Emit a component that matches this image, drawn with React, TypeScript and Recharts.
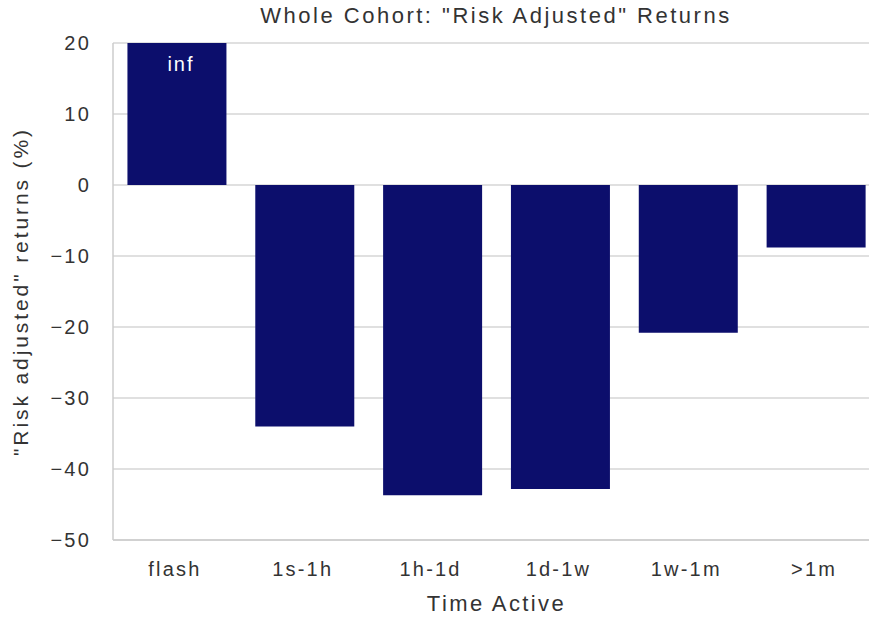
import { Bar, BarChart, CartesianGrid, LabelList, XAxis, YAxis } from "recharts"

const categories = ["flash", "1s-1h", "1h-1d", "1d-1w", "1w-1m", ">1m"]
// flash is infinite in the source; drawn clipped at the top of the axis
const returns = [20, -34, -43.7, -42.8, -20.8, -8.8]
const notes = ["inf", "", "", "", "", ""]
const yTicks = [20, 10, 0, -10, -20, -30, -40, -50]

const chartData = categories.map((c, i) => ({ period: c, value: returns[i], note: notes[i] }))

const font = "'Liberation Sans', Arial, sans-serif"
const textColor = "#333333"

const fmt = (v: number) => (v < 0 ? `\u2212${Math.abs(v)}` : `${v}`)

const XTick = ({ x, y, payload }: any) => (
  <text
    x={x - 2}
    y={y + 28}
    textAnchor="middle"
    fill={textColor}
    fontSize={20}
    fontFamily={font}
    style={{ letterSpacing: 2.2 }}
  >
    {payload.value}
  </text>
)

const YTick = ({ x, y, payload }: any) => (
  <text
    x={x - 14}
    y={y + 7}
    textAnchor="end"
    fill={textColor}
    fontSize={20}
    fontFamily={font}
    style={{ letterSpacing: 2.2 }}
  >
    {fmt(payload.value)}
  </text>
)

const NoteLabel = (props: any) => {
  const { x, y, width, value } = props
  if (!value) return null
  return (
    <text
      x={x + width / 2 + 4}
      y={y + 28}
      textAnchor="middle"
      fill="#ffffff"
      fontSize={20}
      fontFamily={font}
      style={{ letterSpacing: 2 }}
    >
      {value}
    </text>
  )
}

export default function App() {
  return (
    <div
      style={{
        position: "fixed",
        left: 0,
        top: 0,
        width: 869,
        height: 618,
        overflow: "hidden",
        background: "#fff",
        fontFamily: font,
      }}
    >
      <div
        style={{
          position: "absolute",
          left: 0,
          top: 3,
          width: 992,
          textAlign: "center",
          fontSize: 22,
          letterSpacing: 2.5,
          color: textColor,
        }}
      >
        Whole Cohort: "Risk Adjusted" Returns
      </div>
      <BarChart
        width={880}
        height={618}
        data={chartData}
        margin={{ top: 43, right: 0, left: 0, bottom: 0 }}
        barCategoryGap="11.3%"
      >
        <CartesianGrid vertical={false} stroke="#d6d6d6" strokeWidth={1.5} />
        <XAxis
          dataKey="period"
          height={78}
          axisLine={{ stroke: "#cccccc", strokeWidth: 1.5 }}
          tickLine={false}
          tick={<XTick />}
          label={{
            value: "Time Active",
            position: "insideBottom",
            offset: 7,
            fill: textColor,
            fontSize: 22,
            fontFamily: font,
            style: { letterSpacing: 2.4 },
          }}
        />
        <YAxis
          width={113}
          domain={[-50, 20]}
          ticks={yTicks}
          allowDataOverflow
          axisLine={{ stroke: "#cccccc", strokeWidth: 1.5 }}
          tickLine={false}
          tick={<YTick />}
          label={{
            value: '"Risk adjusted" returns (%)',
            angle: -90,
            position: "insideLeft",
            offset: 21,
            style: { textAnchor: "middle", letterSpacing: 2.9 },
            fill: textColor,
            fontSize: 21,
            fontFamily: font,
          }}
        />
        <Bar dataKey="value" fill="#0c0e6c" isAnimationActive={false}>
          <LabelList dataKey="note" content={<NoteLabel />} />
        </Bar>
      </BarChart>
    </div>
  )
}
